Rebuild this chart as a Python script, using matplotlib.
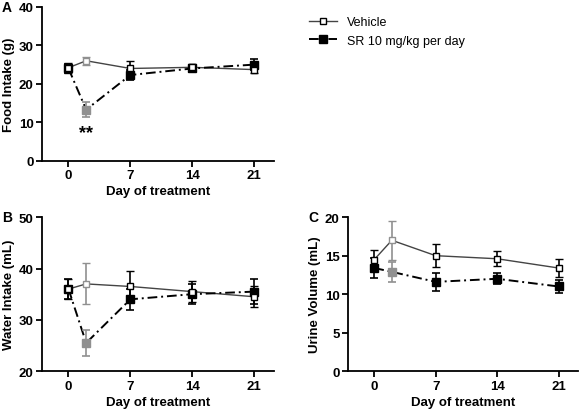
import matplotlib
matplotlib.use("Agg")
import matplotlib.pyplot as plt

days = [0, 2, 7, 14, 21]
xticks = [0, 7, 14, 21]
food_veh = [24.2, 26.0, 24.0, 24.3, 23.7]
food_veh_err = [1.3, 1.0, 2.0, 0.8, 1.0]
food_sr = [24.0, 13.3, 22.3, 24.0, 25.0]
food_sr_err = [1.2, 2.0, 1.3, 0.8, 1.5]
water_veh = [36.0, 37.0, 36.5, 35.5, 34.5]
water_veh_err = [2.0, 4.0, 3.0, 2.0, 2.0]
water_sr = [36.0, 25.5, 34.0, 35.0, 35.5]
water_sr_err = [2.0, 2.5, 2.0, 2.0, 2.5]
urine_veh = [14.5, 17.0, 15.0, 14.6, 13.4]
urine_veh_err = [1.3, 2.5, 1.5, 1.0, 1.2]
urine_sr = [13.4, 12.9, 11.6, 12.0, 11.0]
urine_sr_err = [1.3, 1.3, 1.2, 0.7, 0.8]

plt.rcParams['font.family'] = ['Liberation Sans', 'DejaVu Sans']
plt.rcParams['font.weight'] = 'bold'
fig = plt.figure(figsize=(5.79, 4.14), dpi=100)

def panel(rect, veh, veh_e, sr, sr_e, ylim, yticks, ylabel, letter):
    ax = fig.add_axes(rect)
    ax.plot(days, veh, color='#444444', lw=1.0, ls='-', zorder=1)
    ax.plot(days, sr, color='black', lw=1.4, ls=(0, (5, 2, 1, 2)), zorder=1)
    for i, d in enumerate(days):
        c = '#909090' if d == 2 else 'black'
        ax.errorbar(d, veh[i], yerr=veh_e[i], fmt='s', mfc='white', mec=c, ecolor=c,
                    ms=5, capsize=3, elinewidth=1.2, capthick=1.2, mew=1.0, zorder=3)
        ax.errorbar(d, sr[i], yerr=sr_e[i], fmt='s', mfc=c, mec=c, ecolor=c,
                    ms=6, capsize=3, elinewidth=1.2, capthick=1.2, zorder=2)
    ax.set_xlim(-3, 23.2)
    ax.set_ylim(*ylim)
    ax.set_yticks(yticks)
    ax.set_xticks(xticks)
    ax.spines['top'].set_visible(False)
    ax.spines['right'].set_visible(False)
    for s in ['left', 'bottom']:
        ax.spines[s].set_linewidth(1.3)
    ax.tick_params(width=1.3, length=4, labelsize=9.5, pad=2)
    ax.set_ylabel(ylabel, fontsize=9.5, fontweight='bold', labelpad=3)
    ax.set_xlabel('Day of treatment', fontsize=9.5, fontweight='bold', labelpad=3)
    ax.text(-0.13, 1.0, letter, transform=ax.transAxes, fontsize=10, fontweight='bold',
            ha='right', va='center')
    return ax

axA = panel([0.0725, 0.609, 0.40, 0.372], food_veh, food_veh_err, food_sr, food_sr_err,
            (0, 40), [0, 10, 20, 30, 40], 'Food Intake (g)', 'A')
axA.text(2, 9.5, '**', ha='center', va='top', fontsize=13, fontweight='bold')
panel([0.0725, 0.101, 0.40, 0.372], water_veh, water_veh_err, water_sr, water_sr_err,
      (20, 50), [20, 30, 40, 50], 'Water Intake (mL)', 'B')
panel([0.601, 0.101, 0.397, 0.372], urine_veh, urine_veh_err, urine_sr, urine_sr_err,
      (0, 20), [0, 5, 10, 15, 20], 'Urine Volume (mL)', 'C')

from matplotlib.lines import Line2D
h1 = Line2D([], [], color='#444444', lw=1.0, marker='s', mfc='white', mec='black', ms=5)
h2 = Line2D([], [], color='black', lw=1.4, ls=(0, (5, 2, 1, 2)), marker='s', mfc='black', mec='black', ms=6)
fig.legend([h1, h2], ['Vehicle', 'SR 10 mg/kg per day'], loc='upper left',
           bbox_to_anchor=(0.515, 0.985), frameon=False, prop={'size': 9, 'weight': 'normal'},
           handlelength=2.2)
fig.savefig('out.png', dpi=100)
